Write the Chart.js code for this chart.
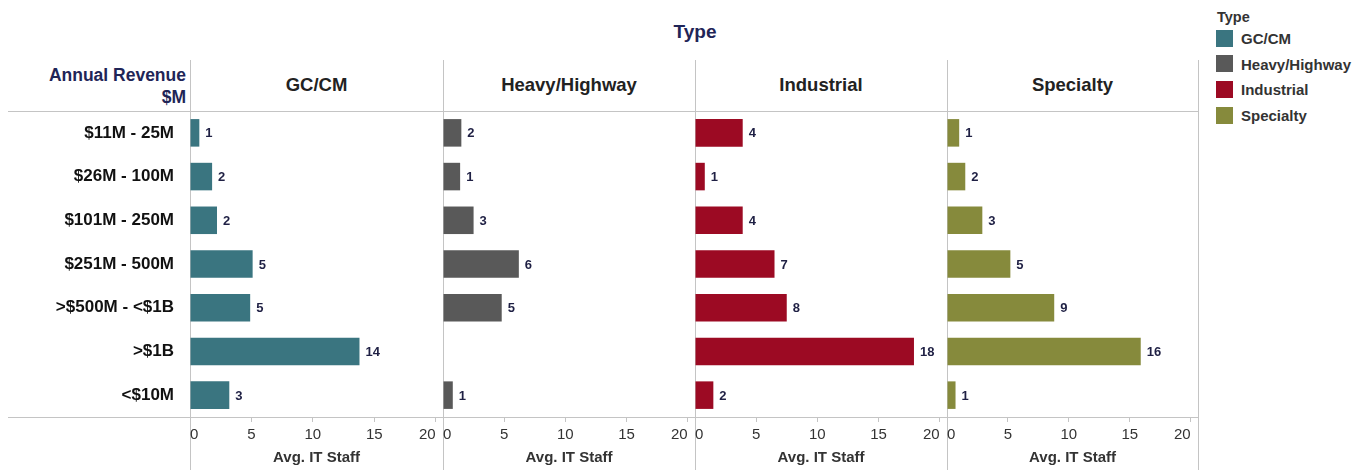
<!DOCTYPE html>
<html>
<head>
<meta charset="utf-8">
<script src="https://cdn.jsdelivr.net/npm/chart.js@4.4.1/dist/chart.umd.min.js"></script>
<style>
body{margin:0;background:#fff;font-family:"Liberation Sans",Arial,sans-serif;}
#wrap{position:relative;width:1366px;height:470px;overflow:hidden;}
.t{position:absolute;white-space:nowrap;transform:translateY(-50%);font-weight:bold;}
.ln{position:absolute;background:#c4c4c4;}
canvas{position:absolute;}
</style>
</head>
<body>
<div id="wrap"></div>
<script>
// Avg. IT staff by annual revenue and contractor type
const categories = ['$11M - 25M','$26M - 100M','$101M - 250M','$251M - 500M','>$500M - <$1B','>$1B','<$10M'];
const types = ['GC/CM','Heavy/Highway','Industrial','Specialty'];
const typeColors = ['#3a7580','#595959','#9c0a23','#868a3c'];

const gcValues         = [0.76, 1.8, 2.2, 5.1, 4.9, 13.8, 3.2];
const heavyValues      = [1.5, 1.4, 2.5, 6.2, 4.8, null, 0.8];
const industrialValues = [3.9, 0.8, 3.9, 6.5, 7.5, 17.9, 1.5];
const specialtyValues  = [1.0, 1.5, 2.9, 5.2, 8.8, 15.9, 0.7];
const seriesValues = [gcValues, heavyValues, industrialValues, specialtyValues];

const xTicks = [0, 5, 10, 15, 20];
const xMax = 20.6;

const FONT = '"Liberation Sans", Arial, sans-serif';
const wrap = document.getElementById('wrap');

// panel edges (px)
const edges = [190, 443, 695, 947, 1198];
const top0 = 111, bottom0 = 417;

function addText(txt, x, y, size, color, align){
  const d = document.createElement('div');
  d.className = 't';
  d.textContent = txt;
  d.style.fontSize = size + 'px';
  d.style.color = color;
  d.style.top = y + 'px';
  if(align === 'right'){ d.style.right = (1366 - x) + 'px'; }
  else if(align === 'center'){ d.style.left = x + 'px'; d.style.transform = 'translate(-50%,-50%)'; }
  else { d.style.left = x + 'px'; }
  wrap.appendChild(d);
}
function addLine(x, y, w, h){
  const d = document.createElement('div');
  d.className = 'ln';
  d.style.left = x + 'px'; d.style.top = y + 'px';
  d.style.width = w + 'px'; d.style.height = h + 'px';
  wrap.appendChild(d);
}

// grid lines of the table
addLine(8, top0, edges[4] - 8, 1);
addLine(8, bottom0, edges[4] - 8, 1);
edges.forEach(x => addLine(x, 60, 1, 410));

// headers
addText('Type', 695, 32, 19, '#1f2557', 'center');
addText('Annual Revenue', 186, 75, 17.5, '#1f2557', 'right');
addText('$M', 186, 97, 17.5, '#1f2557', 'right');
types.forEach((t, i) => addText(t, (edges[i] + edges[i+1]) / 2, 85, 18.5, '#222', 'center'));

// legend
addText('Type', 1217, 17, 14.5, '#333', 'left');
types.forEach((t, i) => {
  const y = 38 + i * 25.7;
  const sw = document.createElement('div');
  sw.style.cssText = `position:absolute;left:1216px;top:${y - 8.5}px;width:17px;height:17px;background:${typeColors[i]};`;
  wrap.appendChild(sw);
  addText(t, 1241, y, 15, '#333', 'left');
});

const valueLabels = {
  id: 'valueLabels',
  afterDatasetsDraw(chart){
    const ctx = chart.ctx;
    const ds = chart.data.datasets[0];
    const meta = chart.getDatasetMeta(0);
    ctx.save();
    ctx.font = 'bold 13px ' + FONT;
    ctx.fillStyle = '#1f2044';
    ctx.textBaseline = 'middle';
    meta.data.forEach((bar, i) => {
      const v = ds.data[i];
      if(v === null || v === undefined) return;
      ctx.fillText(String(Math.round(v)), bar.x + 6, bar.y + 1);
    });
    ctx.restore();
  }
};

function makePanel(i){
  const first = i === 0;
  const left = first ? 0 : edges[i];
  const width = edges[i+1] - left;
  const cv = document.createElement('canvas');
  cv.width = width; cv.height = 470 - top0;
  cv.style.left = left + 'px'; cv.style.top = top0 + 'px';
  cv.style.width = width + 'px'; cv.style.height = (470 - top0) + 'px';
  wrap.appendChild(cv);

  new Chart(cv.getContext('2d'), {
    type: 'bar',
    data: {
      labels: categories,
      datasets: [{
        label: types[i],
        data: seriesValues[i],
        backgroundColor: typeColors[i],
        barPercentage: 0.63,
        categoryPercentage: 1
      }]
    },
    options: {
      indexAxis: 'y',
      responsive: false,
      animation: false,
      layout: { padding: 0 },
      plugins: { legend: { display: false }, tooltip: { enabled: false } },
      scales: {
        x: {
          min: 0, max: xMax,
          afterBuildTicks: s => { s.ticks = xTicks.map(v => ({ value: v })); },
          afterFit: s => { s.height = 470 - bottom0; s.paddingLeft = 0; s.paddingRight = 0; },
          border: { display: false },
          grid: { drawOnChartArea: false, drawTicks: true, tickLength: 5, color: '#c4c4c4' },
          ticks: { align: 'inner', padding: 4, color: '#333', font: { family: FONT, size: 15 }, maxRotation: 0 },
          title: { display: true, text: 'Avg. IT Staff', color: '#333', padding: { top: 0, bottom: 3 },
                   font: { family: FONT, size: 15, weight: 'bold' } }
        },
        y: {
          display: first,
          afterFit: s => { s.width = first ? edges[0] : 0; s.paddingTop = 0; s.paddingBottom = 0; },
          border: { display: false },
          grid: { display: false },
          ticks: { padding: 8, color: '#111', font: { family: FONT, size: 17, weight: 'bold' } }
        }
      }
    },
    plugins: [valueLabels]
  });
}

types.forEach((t, i) => makePanel(i));
</script>
</body>
</html>
